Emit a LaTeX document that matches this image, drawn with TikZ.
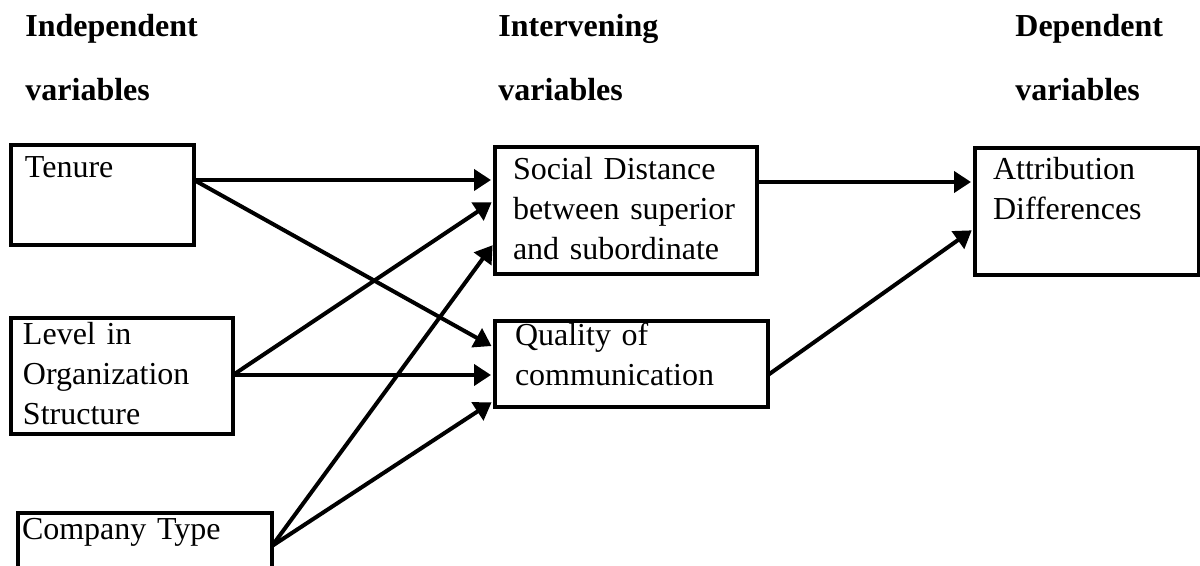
\documentclass[tikz,border=0pt]{standalone}
\usepackage{fontspec}
\setmainfont{Liberation Serif}
\usetikzlibrary{calc,arrows.meta}

\begin{document}
\begin{tikzpicture}[x=0.5pt, y=-0.5pt, font=\fontsize{16pt}{20pt}\selectfont,
  head/.style={anchor=base west, inner sep=0pt, font=\fontsize{16pt}{20pt}\selectfont\bfseries},
  var/.style={draw, line width=1.6pt, anchor=north west, outer sep=0pt, inner ysep=0pt, align=left},
  link/.style={-{Triangle[length=8.5pt,width=10.5pt]}, line width=2pt, shorten >=2pt}]
  \useasboundingbox (0,0) rectangle (1200,566);
  \clip (0,0) rectangle (1200,566);
  \foreach \x/\n/\t in {25/indep/Independent, 498/interv/Intervening, 1015/dep/Dependent} {
    \node[head] (\n-a) at (\x,37) {\t};
    \node[head] (\n-b) at (\x,101) {variables};
  }
  \node[var, inner xsep=7pt, text width=77.5pt, text height=16.5pt, text depth=33.5pt] (tenure) at (11,145) {Tenure};
  \node[var, inner xsep=6pt, text width=99pt, text height=13.5pt, text depth=44.5pt] (level) at (11,318) {Level in\\Organization\\Structure};
  \node[var, inner xsep=2pt, text width=123pt, text height=13pt, text depth=50pt] (company) at (18,513) {Company Type};
  \node[var, inner xsep=9pt, text width=113pt, text height=16.5pt, text depth=47pt] (social) at (495,147) {Social Distance\\between superior\\and subordinate};
  \node[var, inner xsep=10pt, text width=116.5pt, text height=12.5pt, text depth=30.5pt] (quality) at (495,321) {Quality of\\communication};
  \node[var, inner xsep=9pt, text width=94pt, text height=16pt, text depth=47.5pt] (attrib) at (975,148) {Attribution\\Differences};
  \draw[link] ($(tenure.north east)+(0,35)$) -- ($(social.north west)+(0,33)$);
  \draw[link] ($(tenure.north east)+(0,35)$) -- ($(quality.north west)+(0,27)$);
  \draw[link] ($(level.north east)+(0,57)$) -- ($(social.north west)+(0,53)$);
  \draw[link] ($(level.north east)+(0,57)$) -- ($(quality.north west)+(0,54)$);
  \draw[link] ($(company.north east)+(0,33)$) -- ($(social.north west)+(0,95)$);
  \draw[link] ($(company.north east)+(0,33)$) -- ($(quality.north west)+(0,79)$);
  \draw[link] ($(social.north east)+(0,35)$) -- ($(attrib.north west)+(0,34)$);
  \draw[link] ($(quality.north east)+(0,54)$) -- ($(attrib.north west)+(0,80)$);
\end{tikzpicture}
\end{document}
